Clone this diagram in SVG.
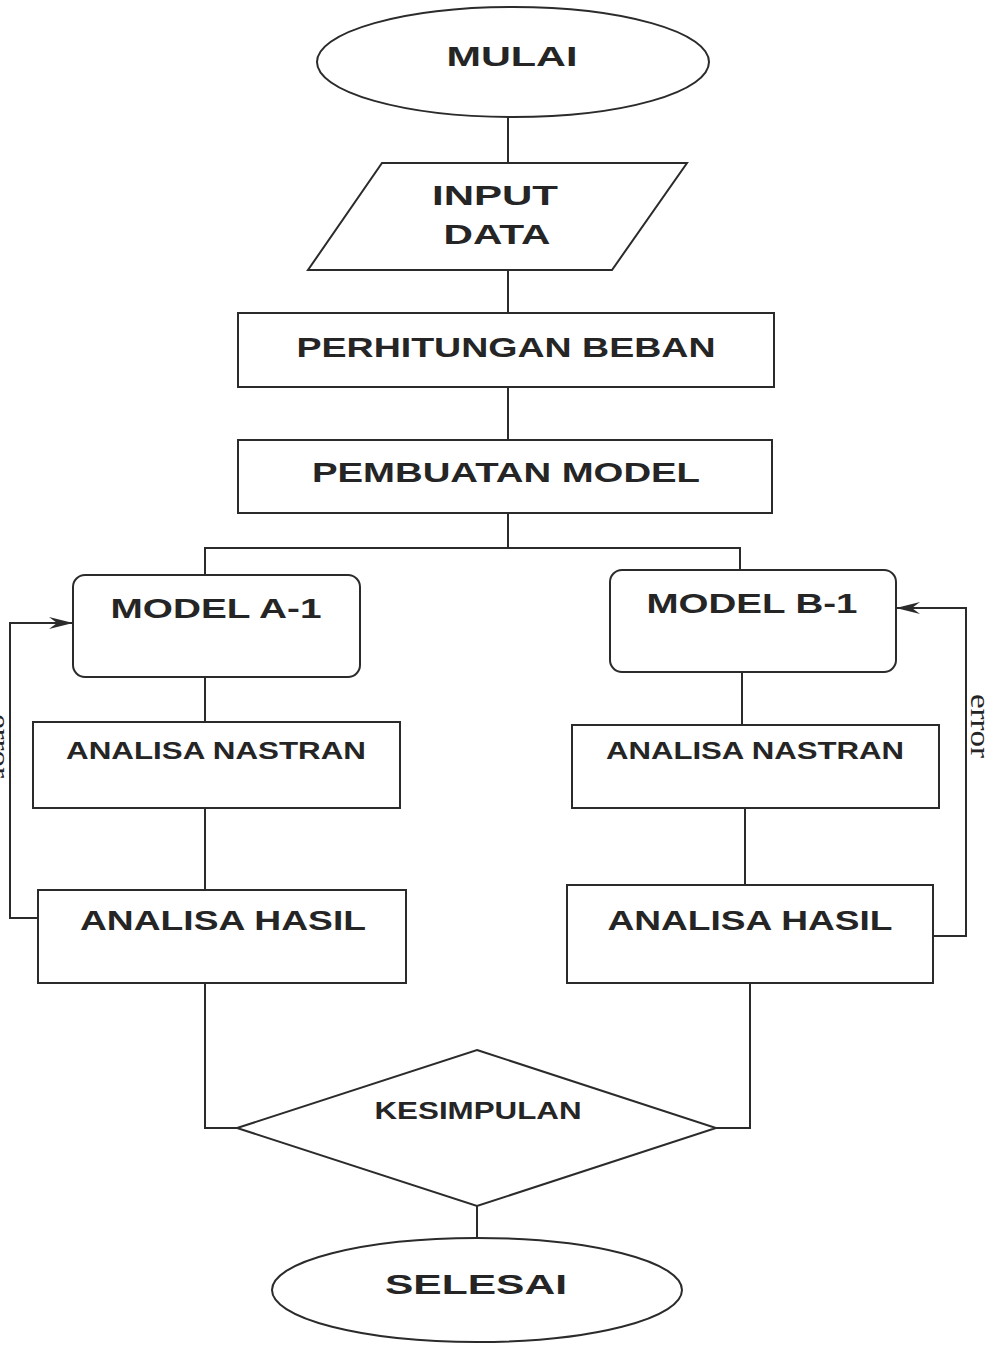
<svg xmlns="http://www.w3.org/2000/svg" width="994" height="1359" viewBox="0 0 994 1359">
<defs>
<style>
.s{fill:none;stroke:#2b2b2b;stroke-width:2}
.n{fill:#fff;stroke:#2b2b2b;stroke-width:2}
.t{font-family:"Liberation Sans",Arial,sans-serif;font-weight:bold;fill:#252525;text-anchor:middle}
.big{font-size:28px}
.mid{font-size:23px}
.lbl{font-family:"Liberation Serif","Times New Roman",serif;font-size:28px;fill:#252525}
</style>
<marker id="ar" viewBox="0 0 24 12" refX="24" refY="6" markerWidth="24" markerHeight="12" markerUnits="userSpaceOnUse" orient="auto">
<path d="M0,0 L24,6 L0,12 L8,6 Z" fill="#2b2b2b"/>
</marker>
</defs>
<rect width="994" height="1359" fill="#fff"/>
<g id="connectors">
<line class="s" x1="508" y1="117" x2="508" y2="163"/>
<line class="s" x1="508" y1="270" x2="508" y2="313"/>
<line class="s" x1="508" y1="387" x2="508" y2="440"/>
<polyline class="s" points="508,513 508,548"/>
<polyline class="s" points="205,575 205,548 740,548 740,570"/>
<line class="s" x1="205" y1="677" x2="205" y2="722"/>
<line class="s" x1="742" y1="672" x2="742" y2="725"/>
<line class="s" x1="205" y1="808" x2="205" y2="890"/>
<line class="s" x1="745" y1="808" x2="745" y2="885"/>
<polyline class="s" points="38,918 10,918 10,623 73,623" marker-end="url(#ar)"/>
<polyline class="s" points="923,936 966,936 966,608 896,608" marker-end="url(#ar)"/>
<polyline class="s" points="205,983 205,1128 237,1128"/>
<polyline class="s" points="750,983 750,1128 716,1128"/>
<line class="s" x1="477" y1="1206" x2="477" y2="1240"/>
<text class="lbl" transform="translate(971,694) rotate(90)" textLength="64" lengthAdjust="spacingAndGlyphs">error</text>
<text class="lbl" transform="translate(-9,714) rotate(90)" textLength="64" lengthAdjust="spacingAndGlyphs">error</text>
</g>
<g id="mulai">
<ellipse class="n" cx="513" cy="62" rx="196" ry="55"/>
<text class="t big" x="512" y="66" textLength="131" lengthAdjust="spacingAndGlyphs">MULAI</text>
</g>
<g id="input-data">
<polygon class="n" points="382,163 687,163 612,270 308,270"/>
<text class="t big" x="495" y="205" textLength="126" lengthAdjust="spacingAndGlyphs">INPUT</text>
<text class="t big" x="497" y="244" textLength="107" lengthAdjust="spacingAndGlyphs">DATA</text>
</g>
<g id="perhitungan-beban">
<rect class="n" x="238" y="313" width="536" height="74"/>
<text class="t big" x="506" y="357" textLength="419" lengthAdjust="spacingAndGlyphs">PERHITUNGAN BEBAN</text>
</g>
<g id="pembuatan-model">
<rect class="n" x="238" y="440" width="534" height="73"/>
<text class="t big" x="506" y="482" textLength="388" lengthAdjust="spacingAndGlyphs">PEMBUATAN MODEL</text>
</g>
<g id="model-a1">
<rect class="n" x="73" y="575" width="287" height="102" rx="12"/>
<text class="t big" x="216" y="618" textLength="211" lengthAdjust="spacingAndGlyphs">MODEL A-1</text>
</g>
<g id="model-b1">
<rect class="n" x="610" y="570" width="286" height="102" rx="12"/>
<text class="t big" x="752" y="613" textLength="211" lengthAdjust="spacingAndGlyphs">MODEL B-1</text>
</g>
<g id="nastran-a">
<rect class="n" x="33" y="722" width="367" height="86"/>
<text class="t mid" x="216" y="759" textLength="300" lengthAdjust="spacingAndGlyphs">ANALISA NASTRAN</text>
</g>
<g id="nastran-b">
<rect class="n" x="572" y="725" width="367" height="83"/>
<text class="t mid" x="755" y="759" textLength="298" lengthAdjust="spacingAndGlyphs">ANALISA NASTRAN</text>
</g>
<g id="hasil-a">
<rect class="n" x="38" y="890" width="368" height="93"/>
<text class="t big" x="223" y="930" textLength="286" lengthAdjust="spacingAndGlyphs">ANALISA HASIL</text>
</g>
<g id="hasil-b">
<rect class="n" x="567" y="885" width="366" height="98"/>
<text class="t big" x="750" y="930" textLength="285" lengthAdjust="spacingAndGlyphs">ANALISA HASIL</text>
</g>
<g id="kesimpulan">
<polygon class="n" points="477,1050 716,1128 477,1206 237,1128"/>
<text class="t mid" x="478" y="1119" textLength="207" lengthAdjust="spacingAndGlyphs">KESIMPULAN</text>
</g>
<g id="selesai">
<ellipse class="n" cx="477" cy="1290" rx="205" ry="52"/>
<text class="t big" x="476" y="1294" textLength="182" lengthAdjust="spacingAndGlyphs">SELESAI</text>
</g>
</svg>
